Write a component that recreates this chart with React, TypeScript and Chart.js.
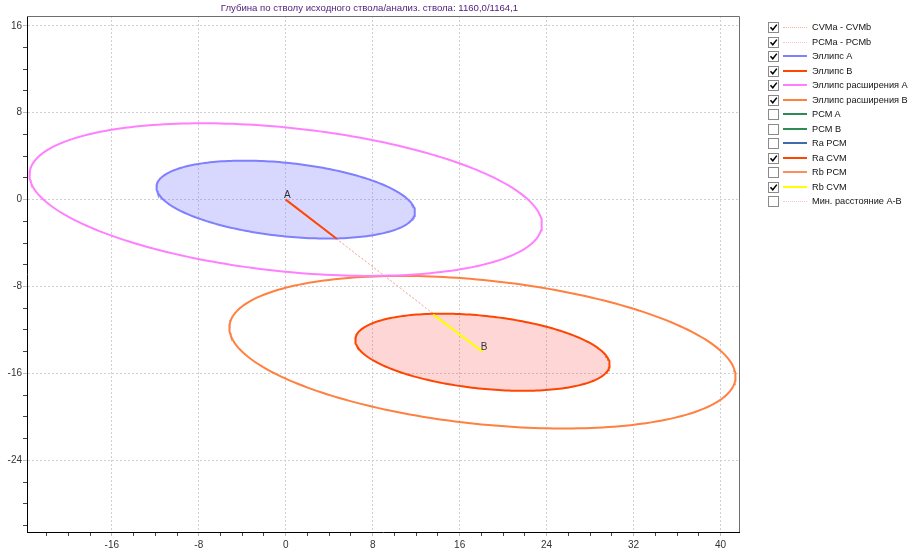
import React, { useEffect, useRef } from 'react';
import { Chart, registerables } from 'chart.js';

Chart.register(...registerables);

// ---------- data ----------
const titleText = 'Глубина по стволу исходного ствола/анализ. ствола: 1160,0/1164,1';

const xRange = [-23.8, 41.7];
const yRange = [-30.6, 16.9];
const minorTickStep = 2;
const majorTickStep = 8;

const pointA = [0, 0];
const pointB = [18.1, -14.0];
const pointLabels = ['A', 'B'];

// ellipses: centre, semi-axes, rotation (degrees)
const ellipseNames = ['Эллипс A', 'Эллипс B', 'Эллипс расширения A', 'Эллипс расширения B'];
const ellipseCx = [0, 18.1, 0, 18.1];
const ellipseCy = [0, -14.05, 0, -14.05];
const ellipseSemiMajor = [11.95, 11.76, 23.69, 23.4];
const ellipseSemiMinor = [3.38, 3.35, 6.61, 6.62];
const ellipseAngleDeg = [-6, -6, -6, -6];

// radius segments from the centres to the ellipse edges
const raCvmEnd = [4.69, -3.6];
const rbCvmEnd = [13.57, -10.59];

// legend
const legendNames = [
  'CVMa - CVMb',
  'PCMa - PCMb',
  'Эллипс A',
  'Эллипс B',
  'Эллипс расширения A',
  'Эллипс расширения B',
  'PCM A',
  'PCM B',
  'Ra PCM',
  'Ra CVM',
  'Rb PCM',
  'Rb CVM',
  'Мин. расстояние A-B',
];
const legendChecked = [true, true, true, true, true, true, false, false, false, true, false, true, false];
const legendColors = [
  '#F7B19C', '#FBC3CC', '#7F7FFF', '#FF4500', '#FF80FF', '#FF8040',
  '#2E8B57', '#2E8B57', '#4169B0', '#FF4500', '#FF8C60', '#FFFF00', '#FBC3CC',
];
const legendDotted = [true, true, false, false, false, false, false, false, false, false, false, false, true];

const FONT = '"Liberation Sans", Arial, sans-serif';

function ellipsePoints(i: number) {
  const pts: { x: number; y: number }[] = [];
  const th = (ellipseAngleDeg[i] * Math.PI) / 180;
  const a = ellipseSemiMajor[i];
  const b = ellipseSemiMinor[i];
  const n = 240;
  for (let k = 0; k <= n; k++) {
    const t = (k / n) * 2 * Math.PI;
    const ex = a * Math.cos(t);
    const ey = b * Math.sin(t);
    pts.push({
      x: ellipseCx[i] + ex * Math.cos(th) - ey * Math.sin(th),
      y: ellipseCy[i] + ex * Math.sin(th) + ey * Math.cos(th),
    });
  }
  return pts;
}

const isMajor = (v: number) => Math.abs(v % majorTickStep) < 1e-9;

const frame = {
  id: 'frame',
  afterDraw(chart: any) {
    const { ctx, chartArea: ca } = chart;
    ctx.save();
    ctx.strokeStyle = '#6e6e6e';
    ctx.lineWidth = 1;
    ctx.beginPath();
    ctx.moveTo(ca.left, ca.top + 0.5);
    ctx.lineTo(ca.right + 0.5, ca.top + 0.5);
    ctx.lineTo(ca.right + 0.5, ca.bottom);
    ctx.stroke();
    ctx.restore();
  },
  afterDatasetsDraw(chart: any) {
    const { ctx } = chart;
    const xs = chart.scales.x;
    const ys = chart.scales.y;
    const pts = [pointA, pointB];
    ctx.save();
    ctx.fillStyle = '#333';
    ctx.font = `10px ${FONT}`;
    ctx.textAlign = 'center';
    ctx.textBaseline = 'bottom';
    pts.forEach((p, i) => {
      ctx.fillText(pointLabels[i], xs.getPixelForValue(p[0]) + 1.5, ys.getPixelForValue(p[1]) + 1);
    });
    ctx.restore();
  },
};

function ChartCanvas() {
  const ref = useRef<HTMLCanvasElement>(null);
  useEffect(() => {
    const canvas = ref.current;
    if (!canvas) return;
    const line = (d: number[][]) => d.map((p) => ({ x: p[0], y: p[1] }));
    const base = { showLine: true, pointRadius: 0, pointHoverRadius: 0, tension: 0 };
    const chart = new Chart(canvas, {
      type: 'scatter',
      data: {
        datasets: [
          { ...base, label: 'Ra CVM', data: line([pointA, raCvmEnd]), borderColor: '#FF4500', borderWidth: 2 },
          { ...base, label: 'Rb CVM', data: line([pointB, rbCvmEnd]), borderColor: '#FFFF00', borderWidth: 2 },
          {
            ...base, label: ellipseNames[0], data: ellipsePoints(0), borderColor: '#7F7FFF', borderWidth: 2,
            backgroundColor: 'rgba(125,125,255,0.3)', fill: 'shape',
          },
          {
            ...base, label: ellipseNames[1], data: ellipsePoints(1), borderColor: '#FF4500', borderWidth: 2,
            backgroundColor: 'rgba(255,85,85,0.24)', fill: 'shape',
          },
          { ...base, label: ellipseNames[2], data: ellipsePoints(2), borderColor: '#FF80FF', borderWidth: 2 },
          { ...base, label: ellipseNames[3], data: ellipsePoints(3), borderColor: '#FF8040', borderWidth: 2 },
          { ...base, label: 'CVMa - CVMb', data: line([pointA, pointB]), borderColor: '#F7B19C', borderWidth: 1, borderDash: [2, 2] },
          { ...base, label: 'PCMa - PCMb', data: line([pointA, pointB]), borderColor: '#FBC3CC', borderWidth: 1, borderDash: [2, 2] },
        ],
      },
      options: {
        animation: false,
        responsive: false,
        maintainAspectRatio: false,
        layout: { padding: { left: 0, top: 0, right: 169, bottom: 0 } },
        plugins: {
          legend: { display: false },
          tooltip: { enabled: false },
          title: {
            display: true,
            text: titleText,
            color: '#4B1B78',
            align: 'center',
            font: { family: FONT, size: 9.6, weight: 'normal', lineHeight: 1.25 },
            padding: { top: 2, bottom: 2 },
          },
        },
        scales: {
          x: {
            type: 'linear',
            min: xRange[0],
            max: xRange[1],
            afterFit: (s: any) => { s.height = 20; },
            ticks: {
              stepSize: minorTickStep,
              includeBounds: false,
              autoSkip: false,
              maxRotation: 0,
              minRotation: 0,
              maxTicksLimit: 200,
              padding: 3,
              color: '#333',
              font: { family: FONT, size: 10 },
              callback: (v: any) => (isMajor(Number(v)) ? String(v) : ''),
            },
            grid: {
              color: (c: any) => (c.tick && isMajor(c.tick.value) ? '#cfcfcf' : 'rgba(0,0,0,0)'),
              tickColor: (c: any) => (c.tick && isMajor(c.tick.value) ? '#bdbdbd' : '#444'),
              tickLength: 4,
              lineWidth: 1,
            },
            border: { display: true, color: '#000', width: 1, dash: [2, 2] },
          },
          y: {
            type: 'linear',
            min: yRange[0],
            max: yRange[1],
            afterFit: (s: any) => { s.width = 27; },
            ticks: {
              stepSize: minorTickStep,
              includeBounds: false,
              autoSkip: false,
              maxTicksLimit: 200,
              padding: 1,
              color: '#333',
              font: { family: FONT, size: 10 },
              callback: (v: any) => (isMajor(Number(v)) ? String(v) : ''),
            },
            grid: {
              color: (c: any) => (c.tick && isMajor(c.tick.value) ? '#cfcfcf' : 'rgba(0,0,0,0)'),
              tickColor: (c: any) => (c.tick && isMajor(c.tick.value) ? '#bdbdbd' : '#444'),
              tickLength: 4,
              lineWidth: 1,
            },
            border: { display: true, color: '#000', width: 1, dash: [2, 2] },
          },
        },
      },
      plugins: [frame],
    } as any);
    return () => chart.destroy();
  }, []);
  return <canvas ref={ref} width={908} height={552} style={{ position: 'absolute', left: 0, top: 0, width: 908, height: 552 }} />;
}

function Legend() {
  return (
    <div style={{ position: 'absolute', left: 0, top: 0, fontFamily: FONT, fontSize: 9.2, color: '#111' }}>
      {legendNames.map((name, i) => {
        const cy = 27 + i * 14.5;
        return (
          <div key={name} style={{ position: 'absolute', left: 0, top: cy - 7, height: 14, width: 908 }}>
            <div
              style={{
                position: 'absolute', left: 768, top: 2, width: 9, height: 9,
                border: '1px solid #8a8a8a', background: '#fff', boxSizing: 'content-box',
              }}
            >
              {legendChecked[i] && (
                <svg width="9" height="9" style={{ position: 'absolute', left: 0, top: 0 }}>
                  <path d="M1.5 4.2 L3.8 6.8 L7.8 1.6" stroke="#000" strokeWidth="1.5" fill="none" />
                </svg>
              )}
            </div>
            <div
              style={{
                position: 'absolute', left: 783, width: 24,
                top: legendDotted[i] ? 7 : 6,
                borderTop: legendDotted[i] ? `1px dotted ${legendColors[i]}` : `2px solid ${legendColors[i]}`,
              }}
            />
            <div style={{ position: 'absolute', left: 812, top: 0, lineHeight: '14px', whiteSpace: 'nowrap' }}>{name}</div>
          </div>
        );
      })}
    </div>
  );
}

export default function App() {
  useEffect(() => {
    document.body.style.margin = '0';
  }, []);
  return (
    <div style={{ position: 'fixed', left: 0, top: 0, width: 908, height: 552, background: '#fff', overflow: 'hidden' }}>
      <ChartCanvas />
      <Legend />
    </div>
  );
}
